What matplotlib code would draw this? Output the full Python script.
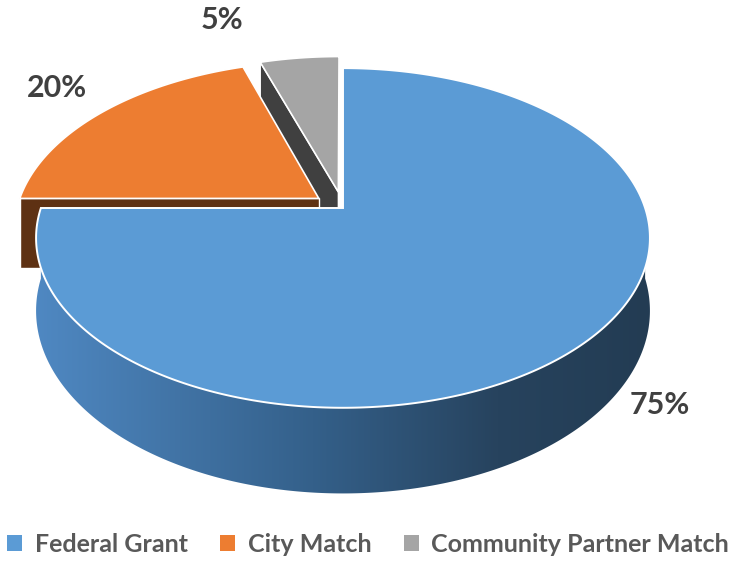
import matplotlib
matplotlib.use("Agg")
import matplotlib.pyplot as plt
from matplotlib.patches import Polygon, Patch
from matplotlib.colors import LinearSegmentedColormap
import numpy as np

labels = ["Federal Grant", "City Match", "Community Partner Match"]
values = [75, 20, 5]
pct_text = ["75%", "20%", "5%"]
top_colors = ["#5B9BD5", "#ED7D31", "#A5A5A5"]
face_colors = ["#2E5276", "#5E3113", "#404040"]
explode = [0.0, 0.1, 0.1]

# fake 3D perspective projection, in pixel units
cx, cy = 343, 208
A, B, D, Hh = 1713, 933, 5.67, 400


def proj(x, y, z):
    d = D + y
    return cx + A * x / d, cy + (-B * y + Hh * (1 - z)) / d


def arc(ox, oy, t1, t2, z, n=120):
    t = np.radians(np.linspace(t1, t2, n))
    return [proj(ox + np.sin(a), oy + np.cos(a), z) for a in t]


def radial_face(ox, oy, t, color):
    a = np.radians(t)
    p = [proj(ox, oy, 1), proj(ox + np.sin(a), oy + np.cos(a), 1),
         proj(ox + np.sin(a), oy + np.cos(a), 0), proj(ox, oy, 0)]
    ax.add_patch(Polygon(p, closed=True, fc=color, ec="white", lw=1))


fig = plt.figure(figsize=(7.44, 5.61), dpi=100)
ax = fig.add_axes([0, 0, 1, 1])
ax.set_xlim(0, 744)
ax.set_ylim(561, 0)
ax.axis("off")

# slice angles, clockwise from 12 o'clock
bounds = np.concatenate([[0], np.cumsum(values)]) / sum(values) * 360
slices = []
for i in range(len(values)):
    t1, t2 = bounds[i], bounds[i + 1]
    mid = np.radians((t1 + t2) / 2)
    slices.append((t1, t2, explode[i] * np.sin(mid), explode[i] * np.cos(mid)))

# gray slice (back), then orange, then blue in front
for i in [2, 1]:
    t1, t2, ox, oy = slices[i]
    radial_face(ox, oy, t1, face_colors[i])
    ax.add_patch(Polygon([proj(ox, oy, 1)] + arc(ox, oy, t1, t2, 1), closed=True,
                         fc=top_colors[i], ec="white", lw=1.2))

# blue curved side with a left-to-right shading
t1, t2, ox, oy = slices[0]
top = arc(ox, oy, 90, 270, 1, 300)
bot = arc(ox, oy, 90, 270, 0, 300)
side = Polygon(top + bot[::-1], closed=True, fc="none", ec="none")
ax.add_patch(side)
shade = LinearSegmentedColormap.from_list(
    "side", [(0, "#4F88C2"), (0.45, "#34608A"), (0.75, "#27435E"), (1, "#233C53")])
grad = np.linspace(0, 1, 256).reshape(1, -1)
im = ax.imshow(grad, cmap=shade, extent=(36, 652, 520, 180), aspect="auto",
               interpolation="bilinear", zorder=1)
im.set_clip_path(side)
ax.set_xlim(0, 744)
ax.set_ylim(561, 0)

ax.add_patch(Polygon([proj(ox, oy, 1)] + arc(ox, oy, t1, t2, 1, 400), closed=True,
                     fc=top_colors[0], ec="white", lw=1.4, zorder=2))

# percentage labels
lab_pos = [(660, 405), (57, 88), (222, 20)]
for (x, y), s in zip(lab_pos, pct_text):
    ax.text(x, y, s, ha="center", va="center", fontsize=22, fontweight="bold",
            color="#404040", family="Lato")

handles = [Patch(facecolor=c, edgecolor="none") for c in top_colors]
leg = fig.legend(handles, labels, loc="center", bbox_to_anchor=(0.495, 1 - 544 / 561),
                 ncol=3, frameon=False, handlelength=0.6, handleheight=0.6,
                 handletextpad=0.5, columnspacing=1.3,
                 prop={"family": "Lato", "weight": "bold", "size": 18})
for t in leg.get_texts():
    t.set_color("#595959")

fig.savefig("out.png", dpi=100)
